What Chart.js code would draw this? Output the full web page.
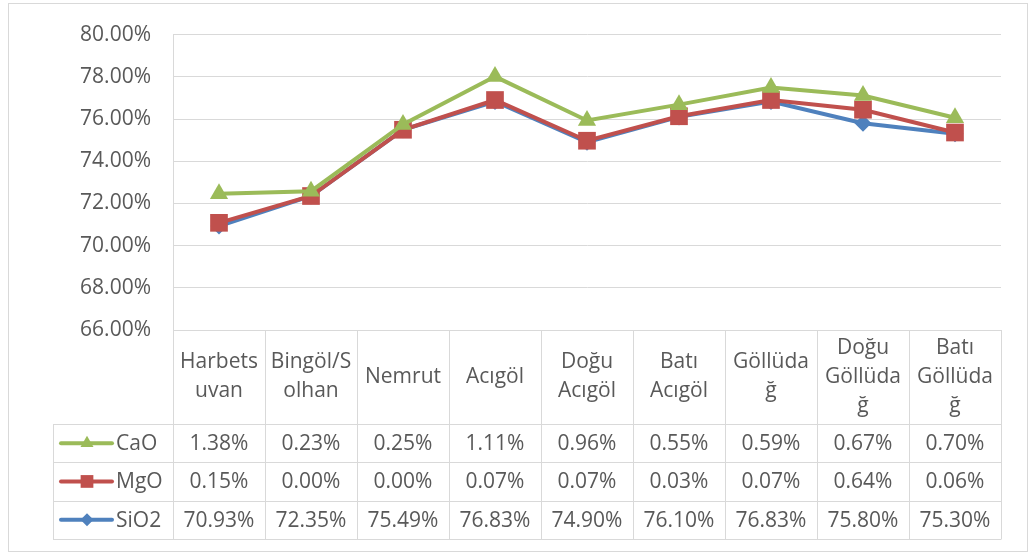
<!DOCTYPE html>
<html><head><meta charset="utf-8">
<script src="https://cdn.jsdelivr.net/npm/chart.js@4/dist/chart.umd.min.js"></script>
<style>html,body{margin:0;padding:0;background:#fff}#wrap{width:1032px;height:554px}</style>
</head><body><div id="wrap"><canvas id="c" width="1032" height="554"></canvas></div>
<script>
const categories = ['Harbetsuvan','Bingöl/Solhan','Nemrut','Acıgöl','Doğu Acıgöl','Batı Acıgöl','Göllüdağ','Doğu Göllüdağ','Batı Göllüdağ'];
const categoryLines = [['Harbets','uvan'],['Bingöl/S','olhan'],['Nemrut'],['Acıgöl'],['Doğu','Acıgöl'],['Batı','Acıgöl'],['Göllüda','ğ'],['Doğu','Göllüda','ğ'],['Batı','Göllüda','ğ']];
const seriesNames = ['SiO2','MgO','CaO'];
const SiO2 = [70.93,72.35,75.49,76.83,74.90,76.10,76.83,75.80,75.30];
const MgO  = [0.15,0.00,0.00,0.07,0.07,0.03,0.07,0.64,0.06];
const CaO  = [1.38,0.23,0.25,1.11,0.96,0.55,0.59,0.67,0.70];
const yTicks = [66,68,70,72,74,76,78,80];

const FONT = '"Open Sans", sans-serif';
const FS = 21;
const TXT = '#595959';
const GRID = '#D9D9D9';
const colors = {SiO2:'#4F81BD', MgO:'#C0504D', CaO:'#9BBB59'};
const styles = {SiO2:'rectRot', MgO:'rect', CaO:'triangle'};
const radii = {SiO2:8.5, MgO:12.5, CaO:10.5};
const seriesData = {SiO2, MgO, CaO};

function fmt(v){ return v.toFixed(2)+'%'; }

const tablePlugin = {
  id:'tablePlugin',
  beforeDraw(chart){
    const ctx = chart.ctx;
    ctx.save();
    ctx.fillStyle = '#fff';
    ctx.fillRect(0,0,chart.width,chart.height);
    ctx.strokeStyle = GRID; ctx.lineWidth = 1;
    ctx.strokeRect(8.5,3.5,1019,548);
    ctx.restore();
  },
  beforeDatasetDraw(){ return false; },
  afterDatasetsDraw(chart){
    const ctx = chart.ctx;
    ctx.save();
    for (let i=0;i<chart.data.datasets.length;i++){
      chart.getDatasetMeta(i).controller.draw();
    }
    ctx.restore();
  },
  afterDraw(chart){
    const ctx = chart.ctx, a = chart.chartArea, xs = chart.scales.x;
    const n = categories.length;
    const colW = (a.right - a.left)/n;
    const top = a.bottom;
    const headH = 94, rowH = 38.3;
    const keyLeft = 53;
    const rowsOrder = ['CaO','MgO','SiO2'];
    const bottom = top + headH + rowH*rowsOrder.length;
    ctx.save();
    ctx.strokeStyle = GRID; ctx.lineWidth = 1;
    ctx.beginPath();
    for (let k=0;k<=n;k++){
      const x = Math.round(a.left + colW*k)+0.5;
      ctx.moveTo(x, top); ctx.lineTo(x, Math.round(bottom)+0.5);
    }
    ctx.moveTo(a.left, Math.round(top)+0.5); ctx.lineTo(a.right, Math.round(top)+0.5);
    for (let r=0;r<=rowsOrder.length;r++){
      const y = Math.round(top+headH+rowH*r)+0.5;
      ctx.moveTo(keyLeft, y); ctx.lineTo(a.right, y);
    }
    ctx.moveTo(keyLeft+0.5, Math.round(top+headH)); ctx.lineTo(keyLeft+0.5, Math.round(bottom)+0.5);
    ctx.stroke();

    ctx.fillStyle = TXT;
    ctx.font = FS+'px '+FONT;
    ctx.textAlign = 'center'; ctx.textBaseline = 'middle';
    const lh = 29;
    for (let i=0;i<n;i++){
      const cx = xs.getPixelForValue(i);
      const lines = categoryLines[i];
      const cy = top + headH/2;
      lines.forEach((t,j)=>{
        ctx.fillText(t, cx, cy + (j-(lines.length-1)/2)*lh);
      });
    }
    rowsOrder.forEach((name,r)=>{
      const cy = top+headH+rowH*r+rowH/2;
      const vals = seriesData[name];
      ctx.fillStyle = TXT; ctx.textAlign='center';
      for (let i=0;i<n;i++){
        ctx.fillText(fmt(vals[i]), xs.getPixelForValue(i), cy+1);
      }
      ctx.strokeStyle = colors[name]; ctx.lineWidth = 4; ctx.lineCap='round';
      ctx.beginPath(); ctx.moveTo(61, cy); ctx.lineTo(112, cy); ctx.stroke();
      ctx.fillStyle = colors[name];
      const ks = {SiO2:6.5, MgO:9, CaO:7.5}[name];
      Chart.helpers.drawPoint(ctx, {pointStyle:styles[name], radius:ks, borderWidth:0}, 87, cy);
      ctx.fillStyle = TXT; ctx.textAlign='left';
      ctx.fillText(name, 116, cy+1);
    });
    ctx.restore();
  }
};

const datasets = seriesNames.map(name => ({
  label:name,
  data: seriesData[name],
  borderColor: colors[name],
  backgroundColor: colors[name],
  pointBackgroundColor: colors[name],
  pointBorderColor: colors[name],
  pointBorderWidth: 0,
  borderWidth: 4,
  pointStyle: styles[name],
  pointRadius: radii[name],
  pointHoverRadius: radii[name],
  tension: 0,
  fill: false,
  stack: 's'
}));

new Chart(document.getElementById('c'), {
  type:'line',
  data:{ labels: categories, datasets },
  plugins:[tablePlugin],
  options:{
    responsive:false,
    animation:false,
    events:[],
    layout:{ padding:{ left:0, top:32, right:31, bottom:224 } },
    plugins:{ legend:{display:false}, tooltip:{enabled:false} },
    scales:{
      x:{ display:false, offset:true },
      y:{
        stacked:true,
        min: yTicks[0], max: yTicks[yTicks.length-1],
        afterFit(s){ s.width = 173; },
        afterBuildTicks(s){ s.ticks = yTicks.map(v=>({value:v})); },
        ticks:{ callback:v=>fmt(v), color:TXT, font:{family:FONT,size:FS}, padding:22 },
        grid:{ color:GRID, lineWidth:1, drawTicks:false },
        border:{ display:true, color:GRID }
      }
    }
  }
});
</script></body></html>
